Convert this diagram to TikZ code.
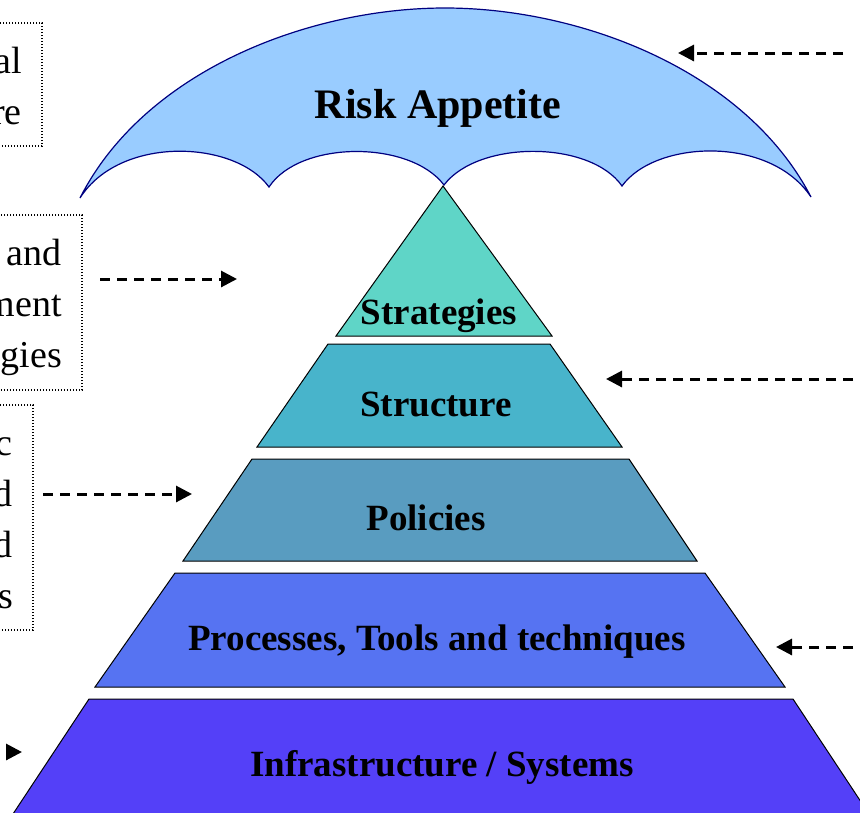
\documentclass[tikz,border=0pt]{standalone}
\usepackage{fontspec}
\setmainfont{Liberation Serif}
\usetikzlibrary{arrows.meta}

\definecolor{canopyfill}{HTML}{99CCFF}
\definecolor{canopyline}{HTML}{000080}
\definecolor{strategiesfill}{HTML}{5FD5C7}
\definecolor{structurefill}{HTML}{48B4CB}
\definecolor{policiesfill}{HTML}{599CC0}
\definecolor{processesfill}{HTML}{5673F2}
\definecolor{infrafill}{HTML}{5440F8}

\tikzset{
  tier/.style={draw=black, line width=1pt},
  tiername/.style={font=\fontsize{37}{44}\selectfont\bfseries, anchor=base, inner sep=0pt},
  note/.style={font=\fontsize{38}{51}\selectfont, align=right, anchor=base east, inner sep=0pt},
  notebox/.style={draw=black, line width=1.3pt, dash pattern=on 1.3pt off 1.7pt},
  pointer/.style={line width=3pt, dash pattern=on 10pt off 7pt, -{Triangle[length=16pt,width=16pt]}},
}

\begin{document}
\begin{tikzpicture}[x=1pt,y=-1pt]
  \useasboundingbox (0,0) rectangle (860,812);
  \clip (0,0) rectangle (860,812);

  % umbrella
  \filldraw[fill=canopyfill, draw=canopyline, line width=1.2pt]
    (80,198) .. controls (145,70) and (310,8) .. (445,8)
    .. controls (580,8) and (745,70) .. (811,197)
    .. controls (770,135) and (655,140) .. (622,186)
    .. controls (590,140) and (478,140) .. (444,185)
    .. controls (410,140) and (300,140) .. (269,187)
    .. controls (235,140) and (120,135) .. (80,198) -- cycle;
  \node[tiername, font=\fontsize{42}{50}\selectfont\bfseries] (appetite) at (438,118) {Risk Appetite};

  % pyramid
  \filldraw[tier, fill=strategiesfill] (443,186) -- (552,336) -- (336,336) -- cycle;
  \filldraw[tier, fill=structurefill] (328,344) -- (550,344) -- (622,447) -- (257,447) -- cycle;
  \filldraw[tier, fill=policiesfill] (252,459) -- (629,459) -- (697,561) -- (183,561) -- cycle;
  \filldraw[tier, fill=processesfill] (175,573) -- (705,573) -- (785,687) -- (95,687) -- cycle;
  \filldraw[tier, fill=infrafill] (89,699) -- (793,699) -- (873,820) -- (9,820) -- cycle;

  \node[tiername] (strategies) at (439,324) {Strategies};
  \node[tiername] (structure) at (436,416) {Structure};
  \node[tiername] (policies) at (426,530) {Policies};
  \node[tiername] (processes) at (437,650) {Processes, Tools and techniques};
  \node[tiername] (infra) at (442,776) {Infrastructure / Systems};

  % notes on the left (base = last line)
  \draw[notebox] (-10,23) rectangle (42,146);
  \node[note] (culture) at (22,124) {al\\re};
  \draw[notebox] (-10,215) rectangle (82,390);
  \node[note] (methods) at (62,367) {and\\ment\\gies};
  \draw[notebox] (-10,405) rectangle (33,630);
  \node[note] (rules) at (13,608) {c\\d\\d\\s};

  % arrows
  \coordinate (r1) at (843,53);   \coordinate (t1) at (678,53);
  \coordinate (l2) at (100,279);  \coordinate (t2) at (237,279);
  \coordinate (l3) at (43,494);   \coordinate (t3) at (192,494);
  \coordinate (r4) at (870,379);  \coordinate (t4) at (606,379);
  \coordinate (r5) at (870,647);  \coordinate (t5) at (776,647);
  \coordinate (l6) at (-45,752);  \coordinate (t6) at (22,752);
  \draw[pointer] (r1) -- (t1);
  \draw[pointer] (l2) -- (t2);
  \draw[pointer] (l3) -- (t3);
  \draw[pointer] (r4) -- (t4);
  \draw[pointer] (r5) -- (t5);
  \draw[pointer] (l6) -- (t6);
\end{tikzpicture}
\end{document}
